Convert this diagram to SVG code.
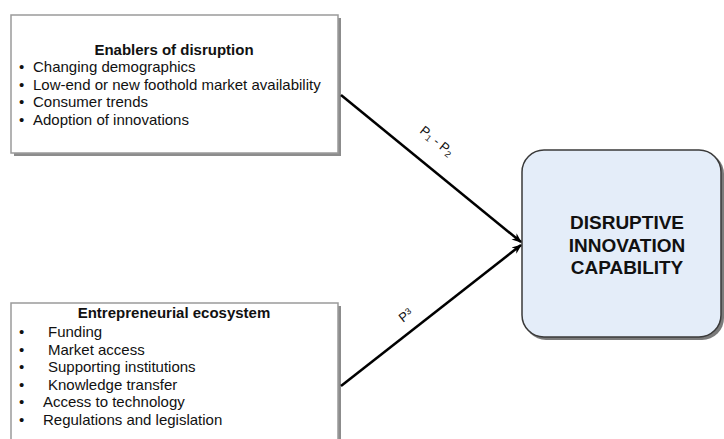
<svg xmlns="http://www.w3.org/2000/svg" width="724" height="439" viewBox="0 0 724 439">
<style>
.t{font-family:"Liberation Sans",Arial,sans-serif;fill:#111}
.h{font-size:15px;font-weight:bold;text-anchor:middle}
.i{font-size:15px}
.c{font-size:19px;font-weight:bold;text-anchor:middle}
.l{font-size:13px}
.box{fill:#fff;stroke:#9a9a9a;stroke-width:1.5}
.sh{fill:#8c8c8c}
.cn{stroke:#000;stroke-width:2.5;fill:none}
</style>
<defs>
<marker id="ah" viewBox="0 0 10 10" refX="9" refY="5" markerWidth="4" markerHeight="4" orient="auto" markerUnits="strokeWidth">
<path d="M0,1 L10,5 L0,9 L3,5 Z" fill="#000"/>
</marker>
</defs>
<rect width="724" height="439" fill="#fff"/>
<g id="enablers">
<rect class="sh" x="14" y="18" width="327" height="138"/>
<rect class="box" x="11" y="15" width="327" height="138"/>
<text class="t h" x="174" y="55">Enablers of disruption</text>
<text class="t i" x="19" y="72">•</text><text class="t i" x="33" y="72">Changing demographics</text>
<text class="t i" x="19" y="90">•</text><text class="t i" x="33" y="90">Low-end or new foothold market availability</text>
<text class="t i" x="19" y="107">•</text><text class="t i" x="33" y="107">Consumer trends</text>
<text class="t i" x="19" y="125">•</text><text class="t i" x="33" y="125">Adoption of innovations</text>
</g>
<g id="ecosystem">
<rect class="sh" x="14" y="306" width="327" height="140"/>
<rect class="box" x="11" y="303" width="327" height="140"/>
<text class="t h" x="174" y="318">Entrepreneurial ecosystem</text>
<text class="t i" x="19" y="337">•</text><text class="t i" x="48" y="337">Funding</text>
<text class="t i" x="19" y="355">•</text><text class="t i" x="48" y="355">Market access</text>
<text class="t i" x="19" y="372">•</text><text class="t i" x="48" y="372">Supporting institutions</text>
<text class="t i" x="19" y="390">•</text><text class="t i" x="48" y="390">Knowledge transfer</text>
<text class="t i" x="19" y="407">•</text><text class="t i" x="43" y="407">Access to technology</text>
<text class="t i" x="19" y="425">•</text><text class="t i" x="43" y="425">Regulations and legislation</text>
</g>
<g id="capability">
<rect x="524" y="152" width="200" height="188" rx="22" fill="#7a7a7a"/>
<rect x="522" y="150" width="199" height="187" rx="22" fill="#e4edf9" stroke="#3a3a3a" stroke-width="1.5"/>
<text class="t c" x="627" y="229">DISRUPTIVE</text>
<text class="t c" x="627" y="252">INNOVATION</text>
<text class="t c" x="627" y="274">CAPABILITY</text>
</g>
<g id="connectors">
<line class="cn" x1="341" y1="95" x2="521" y2="242" marker-end="url(#ah)"/>
<line class="cn" x1="341" y1="386" x2="521" y2="245" marker-end="url(#ah)"/>
<text class="t l" transform="translate(419,132) rotate(39)">P<tspan font-size="9" dy="2">1</tspan><tspan dy="-2"> - P</tspan><tspan font-size="9" dy="2">2</tspan></text>
<text class="t l" transform="translate(403,323) rotate(-38)">P<tspan font-size="9" dy="-3">3</tspan></text>
</g>
</svg>
